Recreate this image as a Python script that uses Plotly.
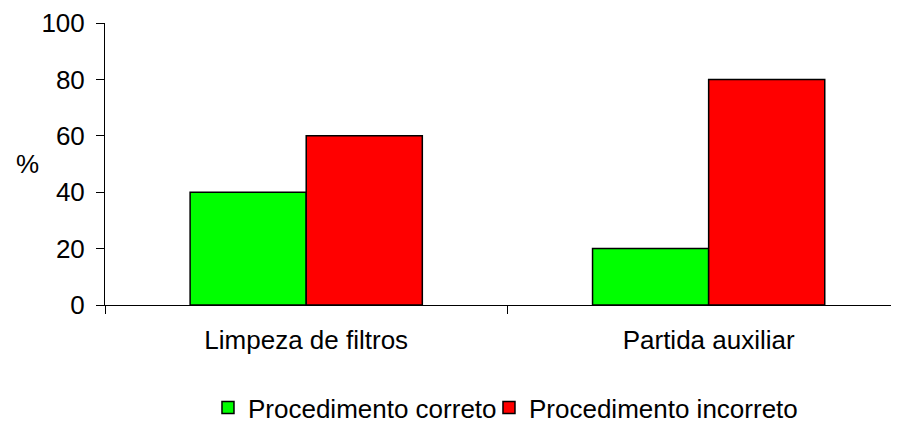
import plotly.graph_objects as go

categories = ["Limpeza de filtros", "Partida auxiliar"]
series_names = ["Procedimento correto", "Procedimento incorreto"]
correto = [40, 20]
incorreto = [60, 80]
y_ticks = [0, 20, 40, 60, 80, 100]

FONT = "Liberation Sans, Arial, sans-serif"

fig = go.Figure()
fig.add_trace(go.Bar(x=categories, y=correto, name=series_names[0], legend="legend",
                     marker=dict(color="#00FF00", line=dict(color="#000000", width=1.5))))
fig.add_trace(go.Bar(x=categories, y=incorreto, name=series_names[1], legend="legend2",
                     marker=dict(color="#FF0000", line=dict(color="#000000", width=1.5))))

leg_common = dict(orientation="h", y=-0.364, yanchor="middle", xanchor="left",
                  font=dict(size=26, family=FONT, color="black"),
                  bgcolor="rgba(0,0,0,0)", borderwidth=0)

fig.update_layout(
    width=891, height=423,
    margin=dict(l=97, r=0, t=12, b=126),
    paper_bgcolor="white", plot_bgcolor="white",
    font=dict(family=FONT, size=26, color="black"),
    barmode="group", bargap=0.423, bargroupgap=0,
    showlegend=True,
    legend=dict(x=0.1297, **leg_common),
    legend2=dict(x=0.4836, **leg_common),
)
fig.update_xaxes(
    range=[-0.5, 1.473],
    showline=True, linecolor="black", linewidth=1,
    ticks="outside", tickson="boundaries", ticklen=8, tickcolor="black", tickwidth=1,
    showgrid=False, zeroline=False, ticklabelstandoff=12,
)
fig.update_yaxes(
    range=[0, 100], tickvals=y_ticks,
    showline=True, linecolor="black", linewidth=1,
    ticks="outside", ticklen=8, tickcolor="black", tickwidth=1,
    showgrid=False, zeroline=False, ticklabelstandoff=6,
    ticklabeloverflow="allow",
)
fig.add_annotation(text="%", xref="paper", yref="paper", x=-0.097, y=0.5,
                   xanchor="center", yanchor="middle", showarrow=False,
                   font=dict(size=26, family=FONT, color="black"))

fig.write_html("out.html")
